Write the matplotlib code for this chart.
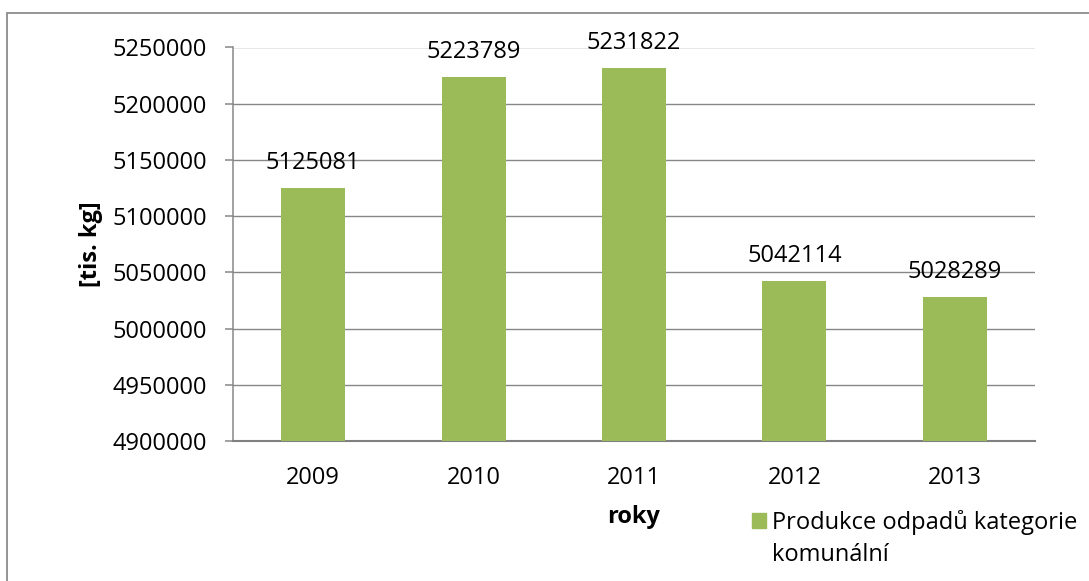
#!/usr/bin/env python3
import matplotlib as mpl
mpl.use('Agg')
import matplotlib.pyplot as plt
from matplotlib.patches import Rectangle, Patch

# data
years = ['2009', '2010', '2011', '2012', '2013']
values = [5125081, 5223789, 5231822, 5042114, 5028289]
yticks = list(range(4900000, 5250001, 50000))
legend_lines = ['Produkce odpadů kategorie', 'komunální']

plt.rcParams['font.family'] = ['Open Sans', 'DejaVu Sans']
bar_color = '#9BBB59'
grid_color = '#878787'
fs = 17

W, H = 1089, 581
fig = plt.figure(figsize=(W / 100, H / 100), dpi=100)
ax = fig.add_axes([233 / W, 1 - 441 / H, (1035 - 233) / W, (441 - 47.5) / H])

x = range(len(years))
ax.bar(x, values, width=0.40, color=bar_color, zorder=3)
for xi, v in zip(x, values):
    ax.annotate(str(v), (xi, v), xytext=(0, 9.5), textcoords='offset points',
                ha='center', va='bottom', fontsize=fs)

ax.set_ylim(4900000, 5250000)
ax.set_xlim(-0.5, len(years) - 0.5)
ax.set_yticks(yticks)
ax.set_yticklabels([str(t) for t in yticks], fontsize=fs)
ax.set_xticks(list(x))
ax.set_xticklabels(years, fontsize=fs)
ax.tick_params(axis='y', length=5.8, width=1.1, color=grid_color, pad=13)
ax.tick_params(axis='x', length=0, pad=18)
ax.yaxis.grid(True, color=grid_color, lw=1.0, zorder=0)
for s in ['top', 'right']:
    ax.spines[s].set_visible(False)
ax.spines['left'].set_color(grid_color)
ax.spines['left'].set_linewidth(1.1)
ax.spines['bottom'].set_color('#808080')
ax.spines['bottom'].set_linewidth(1.5)

# axis titles
fig.text(91 / W, 1 - 244 / H, '[tis. kg]', fontsize=fs, fontweight='bold',
         rotation=90, ha='center', va='center')
fig.text(634 / W, 1 - 523 / H, 'roky', fontsize=fs, fontweight='bold',
         ha='center', va='baseline')

# legend (second line as a blank-handle row so the square sits by line one)
handles = [Patch(color=bar_color), Patch(visible=False)]
leg = fig.legend(handles=handles, labels=legend_lines,
                 loc='upper left', bbox_to_anchor=(752 / W, 1 - 510 / H),
                 frameon=False, fontsize=fs, handlelength=0.6, handleheight=0.6,
                 handletextpad=0.25, labelspacing=0.35, borderpad=0,
                 borderaxespad=0)

# outer frame
fig.patches.append(Rectangle((7 / W, -0.1), 1.2, 1 - 13 / H + 0.1,
                             transform=fig.transFigure, fill=False,
                             edgecolor='#8c8c8c', lw=1.3))

plt.savefig('out.png', dpi=100)
